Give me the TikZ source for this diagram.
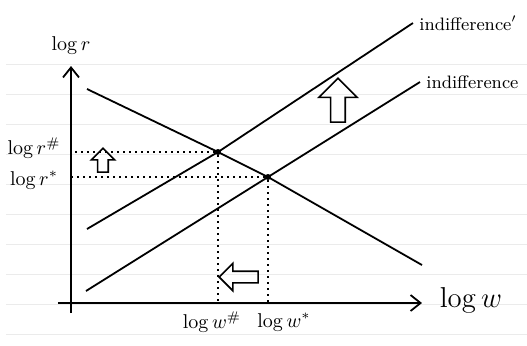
\documentclass[tikz,border=0pt]{standalone}
\usepackage{amsmath}
\usetikzlibrary{arrows.meta, positioning, shapes.arrows}

\begin{document}
\begin{tikzpicture}[x=0.5pt, y=-0.5pt,
  every node/.style={font=\normalsize},
  ruling/.style={draw=black!8, line width=0.5pt},
  axisline/.style={line width=0.9pt, -{Straight Barb[length=5pt, width=8pt]}},
  curve/.style={line width=0.9pt},
  guide/.style={line width=0.6pt, dash pattern=on 0.8pt off 2.2pt},
  dot/.style={circle, fill, inner sep=0pt, minimum size=3pt},
  hollowarr/.style={single arrow, draw, line width=0.8pt, inner xsep=0pt,
                    text height=0pt, text depth=0pt, anchor=tip},
]
  \useasboundingbox (0,0) rectangle (527,345);

  \foreach \yy in {64,94,...,334}
    \draw[ruling] (6,\yy) -- (527,\yy);

  \coordinate (origin) at (71,303);
  \coordinate (ybot) at (71,313);
  \coordinate (ytop) at (71,66);
  \coordinate (xleft) at (58,303);
  \coordinate (xright) at (422,303);

  \draw[axisline] (ybot) -- (ytop);
  \draw[axisline] (xleft) -- (xright);

  \node (ylab) at (71,45) {$\log r$};
  \node[font=\Large] (xlab) at (471,300) {$\log w$};

  \node[dot] (sharp) at (218,152) {};
  \node[dot] (star) at (268,177) {};

  \coordinate (dstart) at (87,89);
  \coordinate (dend) at (422,265);
  \coordinate (ustart) at (87,229);
  \coordinate (uend) at (413,23);
  \coordinate (lstart) at (86,291);
  \coordinate (lend) at (420,82);

  \draw[curve] (dstart) -- (sharp.center) -- (star.center) -- (dend);
  \draw[curve] (ustart) -- (sharp.center) -- (uend);
  \draw[curve] (lstart) -- (star.center) -- (lend);

  \node[anchor=west, font=\small, inner sep=1pt] (indiff2) at ([xshift=2pt]uend) {indifference$'$};
  \node[anchor=west, font=\small, inner sep=1pt] (indiff1) at ([xshift=2pt]lend) {indifference};

  \draw[guide] (sharp) -- (sharp -| origin);
  \draw[guide] (star) -- (star -| origin);
  \draw[guide] (sharp) -- (sharp |- origin);
  \draw[guide] (star) -- (star |- origin);

  \node (rsharp) at (34,148) {$\log r^{\#}$};
  \node (rstar) at (34,180) {$\log r^{*}$};
  \node (wsharp) at (212,322) {$\log w^{\#}$};
  \node (wstar) at (284,322) {$\log w^{*}$};

  \node[hollowarr, rotate=90, minimum height=12pt,
        inner ysep=2.25pt, single arrow head extend=3.25pt] (smallup) at (103,147) {};
  \node[hollowarr, rotate=90, minimum height=22pt,
        inner ysep=3.25pt, single arrow head extend=6pt] (bigup) at (338,77) {};
  \node[hollowarr, shape border rotate=180, minimum height=19.5pt,
        inner ysep=2.5pt, single arrow head extend=4pt] (leftarr) at (218,277) {};
\end{tikzpicture}
\end{document}
